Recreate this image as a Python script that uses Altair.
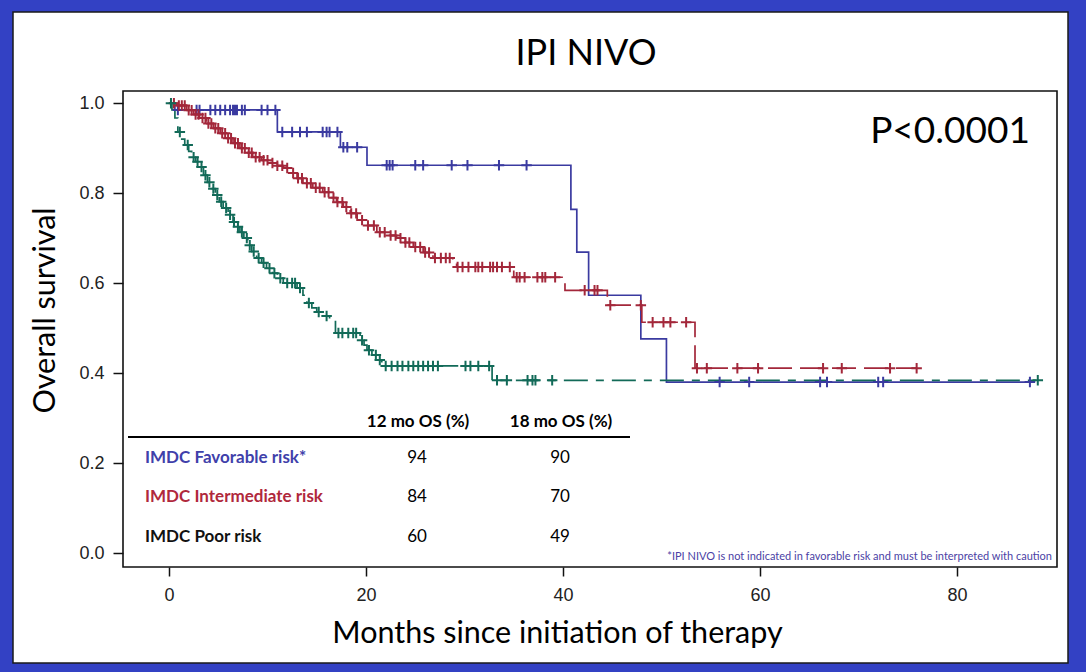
import altair as alt
import pandas as pd
import numpy as np

# ---------------- data ----------------
groups = ["IMDC Favorable risk*", "IMDC Intermediate risk", "IMDC Poor risk"]
line_colors = ["#3a3aa0", "#a3273a", "#126a58"]
text_colors = ["#4040aa", "#b0283c", "#111111"]

fav_time = [0, 0.6, 11.0, 17.4, 20.1, 40.8, 41.4, 42.6, 47.9, 50.5, 87.6]
fav_surv = [1.0, 0.985, 0.936, 0.902, 0.862, 0.764, 0.669, 0.573, 0.476, 0.38, 0.38]
fav_cens = [0.9, 2.8, 3.1, 4.2, 4.7, 5.2, 5.7, 6.2, 6.5, 6.7, 6.9, 7.4, 7.7, 9.4, 10.0, 10.8,
            11.5, 12.5, 13.3, 14.0, 15.6, 16.0, 16.3, 17.1, 17.7, 18.1, 19.1,
            22.1, 22.4, 22.7, 25.0, 25.8, 28.7, 30.3, 33.5, 36.3,
            55.9, 58.9, 66.1, 66.8, 72.0, 72.5, 87.4]

int_time = [0, 0.8, 1.8, 2.5, 3.1, 3.8, 4.5, 5.2, 5.9, 6.5, 7.2, 7.8, 8.5, 9.4, 10.3, 11.0, 11.6,
            12.3, 13.0, 13.6, 14.6, 15.6, 16.3, 17.0, 17.7, 18.4, 19.1, 20.0, 21.1, 22.0, 23.1,
            24.0, 24.8, 25.8, 26.8, 28.8, 29.2, 35.0, 40.2, 44.5, 48.0, 53.4, 75.9]
int_surv = [1.0, 0.995, 0.984, 0.975, 0.967, 0.955, 0.944, 0.933, 0.922, 0.911, 0.90, 0.89, 0.88,
            0.873, 0.867, 0.861, 0.856, 0.845, 0.833, 0.822, 0.812, 0.802, 0.79, 0.78, 0.769,
            0.755, 0.74, 0.728, 0.713, 0.706, 0.70, 0.69, 0.68, 0.668, 0.656, 0.647, 0.636,
            0.613, 0.584, 0.551, 0.513, 0.411, 0.411]
int_cens = [0.5, 1.0, 1.3, 1.6, 2.0, 2.3, 2.7, 3.0, 3.4, 3.7, 4.0, 4.3, 4.7, 5.0, 5.4, 5.7, 6.0,
            6.3, 6.7, 7.0, 7.4, 7.7, 8.1, 8.4, 8.8, 9.2, 9.6, 10.0, 10.5, 11.0, 11.5, 12.0, 12.6,
            13.1, 13.5, 14.0, 14.4, 14.9, 15.3, 15.8, 16.2, 16.7, 17.1, 17.6, 18.0, 18.5, 19.0,
            19.6, 20.2, 20.8, 21.4, 21.9, 22.5, 23.0, 23.5, 24.0, 24.4, 25.0, 25.5, 26.0, 26.4,
            27.0, 27.6, 28.1, 28.5, 29.3, 29.8, 30.4, 31.1, 31.4, 31.8, 32.6, 32.9, 33.3, 33.8,
            34.6, 35.3, 35.6, 36.1, 37.4, 37.9, 38.2, 39.2, 42.2, 43.2, 43.5, 44.8, 47.9,
            49.1, 50.2, 50.9, 52.5, 53.6, 54.6, 57.7, 59.8, 66.4, 68.3, 73.2, 75.9]

poor_time = [0, 0.3, 0.6, 0.9, 1.3, 1.6, 2.0, 2.3, 2.7, 3.1, 3.5, 3.9, 4.3, 4.7, 5.1, 5.5, 6.0,
             6.5, 6.8, 7.2, 7.6, 8.0, 8.4, 8.9, 9.4, 9.9, 10.5, 11.0, 11.6, 13.0, 13.6, 14.0,
             14.5, 15.0, 15.7, 16.3, 16.9, 19.4, 19.8, 20.1, 20.6, 21.1, 21.6, 32.8, 88.2]
poor_surv = [1.0, 0.985, 0.967, 0.936, 0.92, 0.907, 0.893, 0.88, 0.87, 0.858, 0.84, 0.824, 0.81,
             0.796, 0.781, 0.767, 0.752, 0.736, 0.725, 0.713, 0.70, 0.684, 0.67, 0.656, 0.645,
             0.633, 0.622, 0.611, 0.60, 0.589, 0.573, 0.556, 0.545, 0.536, 0.527, 0.518, 0.489,
             0.473, 0.462, 0.451, 0.44, 0.429, 0.416, 0.384, 0.384]
poor_cens = [0.2, 1.1, 1.9, 2.5, 2.9, 3.3, 3.7, 4.1, 4.5, 4.9, 5.3, 5.8, 6.2, 6.6, 7.0, 7.4, 7.9,
             8.2, 8.6, 9.1, 9.6, 10.2, 10.7, 11.3, 12.0, 12.5, 12.8, 13.3, 14.2, 15.2, 16.0, 17.2,
             17.6, 18.2, 18.7, 19.0, 19.6, 20.3, 21.0, 21.4, 22.0, 22.6, 23.2, 23.7, 24.3, 24.8,
             25.3, 25.8, 26.3, 26.8, 27.3, 30.1, 30.6, 31.4, 32.5, 33.3, 34.3, 36.4, 36.9, 37.2,
             38.9, 88.2]

os12 = [94, 84, 60]
os18 = [90, 70, 49]
col_headers = ["12 mo OS (%)", "18 mo OS (%)"]
title_text = "IPI NIVO"
p_text = "P<0.0001"
footnote = "*IPI NIVO is not indicated in favorable risk and must be interpreted with caution"
x_ticks = [0, 20, 40, 60, 80]
y_ticks = [0.0, 0.2, 0.4, 0.6, 0.8, 1.0]

# ---------------- tables ----------------
curves = [(fav_time, fav_surv, fav_cens), (int_time, int_surv, int_cens), (poor_time, poor_surv, poor_cens)]
line_rows, cens_rows = [], []
for g, (tt, ss, cc) in zip(groups, curves):
    for t, s in zip(tt, ss):
        line_rows.append({"group": g, "t": t, "s": s})
    ta = np.array(tt)
    for c in cc:
        i = int(np.searchsorted(ta, c, side="right") - 1)
        cens_rows.append({"group": g, "t": c, "s": ss[i]})
lines_df = pd.DataFrame(line_rows)
cens_df = pd.DataFrame(cens_rows)

W, H = 934, 476
xscale = alt.Scale(domain=[-4.67, 90.15], nice=False, zero=False)
yscale = alt.Scale(domain=[-0.031, 1.027], nice=False, zero=False)
cscale = alt.Scale(domain=groups, range=line_colors)
dscale = alt.Scale(domain=groups, range=[[1, 0], [24, 8], [24, 8, 8, 8]])

one = pd.DataFrame({"a": [0]})

panel = alt.Chart(one).mark_rect(color="white", stroke="#1a1a1a", strokeWidth=1.5).encode(
    x=alt.value(-110), x2=alt.value(945), y=alt.value(-79), y2=alt.value(572))

frame = alt.Chart(one).mark_rect(filled=False, stroke="#111111", strokeWidth=1.6).encode(
    x=alt.value(0), x2=alt.value(W), y=alt.value(0), y2=alt.value(H))

lines = alt.Chart(lines_df).mark_line(interpolate="step-after", strokeWidth=1.7, clip=True).encode(
    x=alt.X("t:Q", scale=xscale, axis=alt.Axis(
        values=x_ticks, format="d", title="Months since initiation of therapy",
        labelFont="Liberation Sans", labelFontSize=18, labelColor="#222", labelPadding=10,
        tickSize=9, tickColor="#111", tickWidth=1.5, domain=False, grid=False,
        titleFont="Lato", titleFontSize=30.5, titleFontWeight="normal", titleColor="black",
        titleX=434, titleY=66, titleAlign="center", titleBaseline="middle", zindex=1)),
    y=alt.Y("s:Q", scale=yscale, axis=alt.Axis(
        values=y_ticks, format=".1f", title="Overall survival",
        labelFont="Liberation Sans", labelFontSize=18, labelColor="#222", labelPadding=9,
        tickSize=10, tickColor="#111", tickWidth=1.5, domain=False, grid=False,
        titleFont="Lato", titleFontSize=30.5, titleFontWeight="normal", titleColor="black",
        titleX=-78, titleY=219, titleAngle=270, titleAlign="center", titleBaseline="middle", zindex=1)),
    color=alt.Color("group:N", scale=cscale, legend=None),
    strokeDash=alt.StrokeDash("group:N", scale=dscale, legend=None),
    detail="group:N",
)

plus = "M-1,0L1,0M0,-1L0,1"
points = alt.Chart(cens_df).mark_point(shape=plus, filled=False, size=110, strokeWidth=2, opacity=1).encode(
    x=alt.X("t:Q", scale=xscale),
    y=alt.Y("s:Q", scale=yscale),
    color=alt.Color("group:N", scale=cscale, legend=None),
)


def txt(s, x, y, size, color="black", weight="normal", align="center", font="Lato"):
    return alt.Chart(pd.DataFrame({"t": [s]})).mark_text(
        align=align, baseline="middle", fontSize=size, color=color, fontWeight=weight, font=font
    ).encode(text="t:N", x=alt.value(x), y=alt.value(y))


layers = [panel, frame, lines, points]
layers.append(txt(title_text, 463, -37, 36))
layers.append(txt(p_text, 827, 41, 37))
layers.append(txt(col_headers[0], 295, 331, 17, weight="bold"))
layers.append(txt(col_headers[1], 438, 331, 17, weight="bold"))
layers.append(alt.Chart(one).mark_rule(color="black", strokeWidth=2).encode(
    x=alt.value(5), x2=alt.value(507), y=alt.value(346)))
row_y = [367, 406, 446]
for g, c, a, b, y in zip(groups, text_colors, os12, os18, row_y):
    layers.append(txt(g, 22, y, 17, color=c, weight="bold", align="left"))
    layers.append(txt(str(a), 294, y, 17))
    layers.append(txt(str(b), 437, y, 17))
layers.append(txt(footnote, 929, 466, 11, color="#4b3fa5", align="right"))

chart = alt.layer(*layers).properties(
    width=W, height=H,
    autosize=alt.AutoSizeParams(type="none"),
    padding={"left": 123, "top": 91, "right": 29, "bottom": 105},
    background="#3341c4",
).configure_view(stroke=None)

chart.save("out.html", embed_options={"renderer": "svg", "actions": False})
